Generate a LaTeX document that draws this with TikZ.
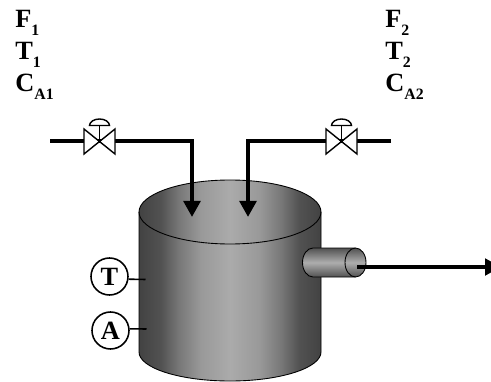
\documentclass[tikz,border=0pt]{standalone}
\usepackage{fontspec}
\setmainfont{Liberation Serif}
\usetikzlibrary{arrows.meta,calc}

% shading of the tank wall and of the outlet nozzle
\pgfdeclarehorizontalshading{tankwall}{100bp}{color(0bp)=(black!74); color(25bp)=(black!74); color(31bp)=(black!68); color(36bp)=(black!53); color(42bp)=(black!40); color(50bp)=(black!33); color(58bp)=(black!40); color(64bp)=(black!53); color(69bp)=(black!68); color(75bp)=(black!74); color(100bp)=(black!74)}
\pgfdeclareverticalshading{nozzlewall}{100bp}{color(0bp)=(black!68); color(25bp)=(black!68); color(50bp)=(black!32); color(75bp)=(black!68); color(100bp)=(black!68)}

\newcommand{\lowidx}[1]{\raisebox{-0.6ex}{\fontsize{9}{9}\selectfont #1}}

\tikzset{
  pipeline/.style={line width=0.08cm,line join=miter},
  flowline/.style={pipeline,-{Triangle[length=0.32cm,width=0.33cm]}},
  outline/.style={line width=0.5pt,draw=black},
  valveline/.style={line width=0.8pt,fill=white},
  stream/.style={font=\fontsize{15}{16}\selectfont\bfseries,anchor=base west,inner sep=0pt},
  sensor/.style={circle,draw,line width=0.9pt,fill=white,minimum size=0.74cm,inner sep=0pt,font=\fontsize{15}{16}\selectfont\bfseries},
}

\begin{document}
\begin{tikzpicture}
\useasboundingbox (0,0) rectangle (9.82,7.62);

% Define coordinates
\coordinate (in1) at (1,4.79);
\coordinate (valve1) at (1.99,4.79);
\coordinate (bend1) at (3.84,4.79);
\coordinate (drop1) at (3.84,3.28);
\coordinate (in2) at (7.82,4.79);
\coordinate (valve2) at (6.83,4.79);
\coordinate (bend2) at (4.96,4.79);
\coordinate (drop2) at (4.96,3.28);
\coordinate (nozzle) at (7.14,2.28);
\coordinate (out) at (10.02,2.28);
\coordinate (tport) at (2.91,2.03);
\coordinate (aport) at (2.93,1.04);

% TANK
\path[shading=tankwall,draw=black,line width=0.5pt] (2.78,3.38) -- (2.78,0.58)
  arc[start angle=180,end angle=360,x radius=1.82,y radius=0.58] -- (6.42,3.38)
  arc[start angle=0,end angle=180,x radius=1.82,y radius=0.64] -- cycle;
\draw[outline] (2.78,3.38) arc[start angle=180,end angle=360,x radius=1.82,y radius=0.64];

% NOZZLE
\path[shading=nozzlewall,draw=black,line width=0.5pt] (7.11,2.66) -- (6.26,2.66)
  arc[start angle=90,end angle=270,x radius=0.21,y radius=0.29] -- (7.11,2.08)
  arc[start angle=-90,end angle=90,x radius=0.21,y radius=0.29] -- cycle;
\draw[outline] (7.11,2.08) arc[start angle=270,end angle=90,x radius=0.21,y radius=0.29];

% Pipes
\draw[flowline] (in1) -- (bend1) -- (drop1);
\draw[flowline] (in2) -- (bend2) -- (drop2);
\draw[flowline,line width=0.07cm] (nozzle) -- (out);

% Valves
\foreach \v in {valve1,valve2} {
  \draw[valveline] ($(\v)+(-0.31,0.25)$) -- ($(\v)+(0.31,-0.25)$) -- ($(\v)+(0.31,0.25)$) -- ($(\v)+(-0.31,-0.25)$) -- cycle;
  \draw[line width=0.8pt] (\v) -- ($(\v)+(0,0.32)$);
  \draw[valveline] ($(\v)+(-0.2,0.32)$) arc[start angle=180,end angle=0,x radius=0.2,y radius=0.13] -- cycle;
}

% Sensors
\node[sensor] (T) at (2.19,2.09) {T};
\node[sensor] (A) at (2.21,1.01) {A};
\draw[line width=0.9pt] (T.-8) -- (tport);
\draw[line width=0.9pt] (A.5) -- (aport);

% Stream labels
\node[stream] (f1) at (0.3,7.06) {F\lowidx{1}};
\node[stream] (t1) at (0.3,6.42) {T\lowidx{1}};
\node[stream] (ca1) at (0.3,5.78) {C\lowidx{A1}};
\node[stream] (f2) at (7.7,7.06) {F\lowidx{2}};
\node[stream] (t2) at (7.7,6.42) {T\lowidx{2}};
\node[stream] (ca2) at (7.7,5.78) {C\lowidx{A2}};

\end{tikzpicture}
\end{document}
